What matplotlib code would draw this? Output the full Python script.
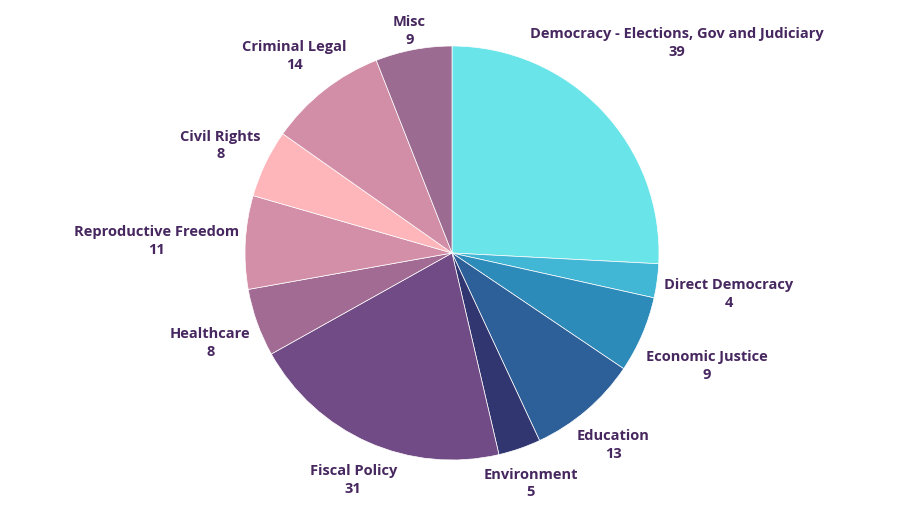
import matplotlib.pyplot as plt
import numpy as np

categories = ['Democracy - Elections, Gov and Judiciary', 'Direct Democracy',
              'Economic Justice', 'Education', 'Environment', 'Fiscal Policy',
              'Healthcare', 'Reproductive Freedom', 'Civil Rights',
              'Criminal Legal', 'Misc']
counts = [39, 4, 9, 13, 5, 31, 8, 11, 8, 14, 9]
colors = ['#69e4e8', '#42b6d5', '#2d8bba', '#2d5f99', '#313670', '#714b85',
          '#a26b93', '#d48fa8', '#feb6bb', '#d38ea7', '#9b6b91']
# how far each label sits from the centre, in pie radii
label_dist = [1.50, 1.35, 1.34, 1.20, 1.16, 1.18, 1.24, 1.43, 1.24, 1.23, 1.11]

fig = plt.figure(figsize=(9, 5.07), dpi=100)
ax = fig.add_axes([0, 0, 1, 1])

cx, cy, R = 452, 254, 207
wedges, _ = ax.pie(counts, colors=colors, startangle=90, counterclock=False,
                   center=(cx, cy), radius=R, frame=True,
                   wedgeprops=dict(edgecolor='white', linewidth=0.5))
ax.set_xlim(0, 900)
ax.set_ylim(0, 507)
ax.set_aspect('equal')
ax.axis('off')

for w, name, n, d in zip(wedges, categories, counts, label_dist):
    mid = np.deg2rad((w.theta1 + w.theta2) / 2)
    x = cx + np.cos(mid) * R * d
    y = cy + np.sin(mid) * R * d - 3.5
    ax.text(x, y, f'{name}\n{n}', ha='center', va='center', fontsize=10.5,
            fontweight='bold', family=['Open Sans', 'DejaVu Sans'],
            color='#47275f', linespacing=1.35)

fig.savefig('out.png', dpi=100)
